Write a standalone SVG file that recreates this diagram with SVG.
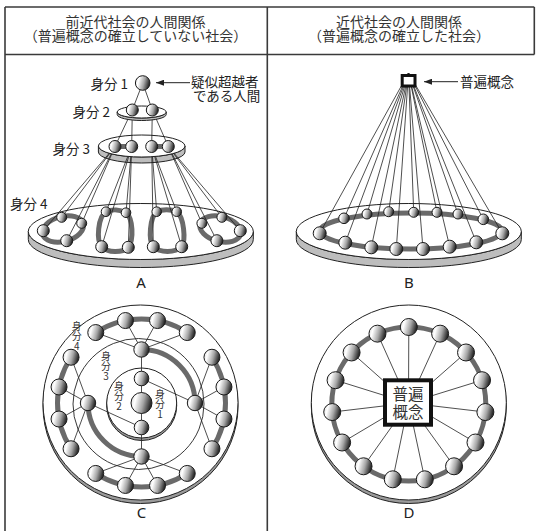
<svg xmlns="http://www.w3.org/2000/svg" width="536" height="531" viewBox="0 0 536 531">
<defs>
  <linearGradient id="bg" x1="0" y1="0" x2="1" y2="0.25">
    <stop offset="0" stop-color="#d4d4d4"/>
    <stop offset="0.28" stop-color="#ffffff"/>
    <stop offset="0.66" stop-color="#a6a6a6"/>
    <stop offset="1" stop-color="#2e2e2e"/>
  </linearGradient>
  <marker id="ah" viewBox="0 0 8 6" refX="8" refY="3" markerWidth="8" markerHeight="6" markerUnits="userSpaceOnUse" orient="auto">
    <path d="M0,0 L8,3 L0,6 Z" fill="#222"/>
  </marker>
  <clipPath id="out3">
    <path clip-rule="evenodd" d="M0,0H536V531H0Z M98.4,146 A43.3,11 0 1 0 185,146 A43.3,11 0 1 0 98.4,146 Z"/>
  </clipPath>
</defs>
<style>
  .frame{stroke:#3a3a3a;stroke-width:1.6;fill:none}
  .hd{font-family:"Noto Sans CJK JP",sans-serif;font-size:14px;fill:#333;text-anchor:middle}
  .lb{font-family:"Noto Sans CJK JP",sans-serif;font-size:13.5px;fill:#222}
  .vl{font-family:"Noto Sans CJK JP",sans-serif;font-size:10px;fill:#333;writing-mode:vertical-rl;text-orientation:upright}
  .pl{font-family:"Noto Sans","Liberation Sans",sans-serif;font-size:15px;fill:#222;text-anchor:middle}
  .sq{font-family:"Noto Sans CJK JP",sans-serif;font-size:15.5px;fill:#333;text-anchor:middle}
  .ball{fill:url(#bg);stroke:#1a1a1a;stroke-width:1}
  .ln{stroke:#222;stroke-width:0.8;fill:none}
  .ring{stroke:#6a6a6a;stroke-width:5;fill:none}
  .top{fill:#fff;stroke:#222;stroke-width:1}
  .band{fill:#bdbdbd;stroke:#222;stroke-width:1}
  .shadow{fill:#9a9a9a;stroke:#222;stroke-width:1}
  .arr{stroke:#222;stroke-width:1;fill:none}
</style>

<!-- frame -->
<g id="frame">
  <line class="frame" x1="5" y1="7" x2="534.3" y2="7"/>
  <line class="frame" x1="5" y1="54.5" x2="534.3" y2="54.5"/>
  <line class="frame" x1="5" y1="7" x2="5" y2="531"/>
  <line class="frame" x1="267.3" y1="7" x2="267.3" y2="531"/>
  <line class="frame" x1="534.3" y1="7" x2="534.3" y2="54.5"/>
  <text class="hd"><tspan x="135.5" y="27">前近代社会の人間関係</tspan><tspan x="135.5" y="40.5">（普遍概念の確立していない社会）</tspan></text>
  <text class="hd"><tspan x="399" y="27">近代社会の人間関係</tspan><tspan x="399" y="40.5">（普遍概念の確立した社会）</tspan></text>
</g>

<!-- ================= Panel A ================= -->
<g id="panelA">
  <g id="A-level4-disc">
    <path class="band" d="M28.3,231.5 A112.5,28 0 0 0 253.3,231.5 L253.3,239.5 A112.5,28 0 0 1 28.3,239.5 Z"/>
    <ellipse class="top" cx="140.8" cy="231.5" rx="112.5" ry="28"/>
    <ellipse class="ring" cx="63" cy="229" rx="21" ry="12.5" transform="rotate(-15 63 229)"/>
    <path class="ring" d="M106,211.7 C112,209 120,209.5 126,212.7 C133,218 134,240 128.3,247.3 C122,253 108,253 101.7,246.7 C96,240 98,217 106,211.7 Z"/>
    <path class="ring" d="M156.7,211.7 C162,209 171,209 176.7,211.7 C184,217 186,240 181.7,246.7 C175,253 160,253 153.3,246.7 C148,240 150,217 156.7,211.7 Z"/>
    <ellipse class="ring" cx="220.3" cy="229" rx="21" ry="12.5" transform="rotate(15 220.3 229)"/>
  </g>
  <g id="A-level3-disc">
    <path class="band" d="M98.4,146 A43.3,11 0 0 0 185,146 L185,152 A43.3,11 0 0 1 98.4,152 Z"/>
    <ellipse class="top" cx="141.7" cy="146" rx="43.3" ry="11"/>
  </g>
  <g id="connectors-A-3to4" clip-path="url(#out3)">
    <line class="ln" x1="115" y1="146.5" x2="43.3" y2="230.7"/>
    <line class="ln" x1="115" y1="146.5" x2="61.7" y2="217.3"/>
    <line class="ln" x1="115" y1="146.5" x2="81.7" y2="223.3"/>
    <line class="ln" x1="115" y1="146.5" x2="66.7" y2="240.7"/>
    <line class="ln" x1="131.7" y1="146.5" x2="106" y2="211.7"/>
    <line class="ln" x1="131.7" y1="146.5" x2="126" y2="212.7"/>
    <line class="ln" x1="131.7" y1="146.5" x2="101.7" y2="246.7"/>
    <line class="ln" x1="131.7" y1="146.5" x2="128.3" y2="247.3"/>
    <line class="ln" x1="151.7" y1="146.5" x2="156.7" y2="211.7"/>
    <line class="ln" x1="151.7" y1="146.5" x2="176.7" y2="211.7"/>
    <line class="ln" x1="151.7" y1="146.5" x2="153.3" y2="246.7"/>
    <line class="ln" x1="151.7" y1="146.5" x2="181.7" y2="246.7"/>
    <line class="ln" x1="168.3" y1="146.5" x2="240.3" y2="230.7"/>
    <line class="ln" x1="168.3" y1="146.5" x2="221.9" y2="217.3"/>
    <line class="ln" x1="168.3" y1="146.5" x2="201.9" y2="223.3"/>
    <line class="ln" x1="168.3" y1="146.5" x2="216.9" y2="240.7"/>
  </g>
  <g id="A-level4-balls">
    <circle class="ball" cx="61.7" cy="217.3" r="5"/>
    <circle class="ball" cx="81.7" cy="223.3" r="5"/>
    <circle class="ball" cx="43.3" cy="230.7" r="6"/>
    <circle class="ball" cx="66.7" cy="240.7" r="6"/>
    <circle class="ball" cx="106" cy="211.7" r="4.8"/>
    <circle class="ball" cx="126" cy="212.7" r="4.8"/>
    <circle class="ball" cx="101.7" cy="246.7" r="6"/>
    <circle class="ball" cx="128.3" cy="247.3" r="6"/>
    <circle class="ball" cx="156.7" cy="211.7" r="4.8"/>
    <circle class="ball" cx="176.7" cy="211.7" r="4.8"/>
    <circle class="ball" cx="153.3" cy="246.7" r="6"/>
    <circle class="ball" cx="181.7" cy="246.7" r="6"/>
    <circle class="ball" cx="221.9" cy="217.3" r="5"/>
    <circle class="ball" cx="201.9" cy="223.3" r="5"/>
    <circle class="ball" cx="240.3" cy="230.7" r="6"/>
    <circle class="ball" cx="216.9" cy="240.7" r="6"/>
  </g>
  <g id="connectors-A-2to3">
    <line class="ln" x1="132.3" y1="110" x2="115" y2="146.5"/>
    <line class="ln" x1="132.3" y1="110" x2="131.7" y2="146.5"/>
    <line class="ln" x1="152.3" y1="110" x2="151.7" y2="146.5"/>
    <line class="ln" x1="152.3" y1="110" x2="168.3" y2="146.5"/>
  </g>
  <g id="A-level2-disc">
    <path class="band" d="M117.2,112 A24.5,6 0 0 0 166.2,112 L166.2,114.5 A24.5,6 0 0 1 117.2,114.5 Z"/>
    <ellipse class="top" cx="141.7" cy="112" rx="24.5" ry="6"/>
  </g>
  <g id="A-level3-balls">
    <line stroke="#6a6a6a" stroke-width="5" x1="115" y1="146.5" x2="131.7" y2="146.5"/>
    <line stroke="#6a6a6a" stroke-width="5" x1="151.7" y1="146.5" x2="168.3" y2="146.5"/>
    <circle class="ball" cx="115" cy="146.5" r="6"/>
    <circle class="ball" cx="131.7" cy="146.5" r="6"/>
    <circle class="ball" cx="151.7" cy="146.5" r="6"/>
    <circle class="ball" cx="168.3" cy="146.5" r="6"/>
  </g>
  <g id="connectors-A-1to2">
    <line class="ln" x1="142.7" y1="83" x2="132.3" y2="110"/>
    <line class="ln" x1="142.7" y1="83" x2="152.3" y2="110"/>
  </g>
  <g id="A-level2-balls">
    <circle class="ball" cx="132.3" cy="110" r="6"/>
    <circle class="ball" cx="152.3" cy="110" r="6"/>
  </g>
  <g id="A-level1-ball">
    <circle class="ball" cx="142.7" cy="83" r="7.3" stroke-width="1.6"/>
  </g>
  <g id="A-labels">
    <text class="lb" x="128" y="88.5" text-anchor="end">身分 1</text>
    <text class="lb" x="110" y="117" text-anchor="end">身分 2</text>
    <text class="lb" x="90" y="154" text-anchor="end">身分 3</text>
    <text class="lb" x="10" y="209">身分 4</text>
    <line class="arr" x1="190" y1="82.7" x2="156" y2="82.7" marker-end="url(#ah)"/>
    <text class="lb"><tspan x="191" y="87">疑似超越者</tspan><tspan x="193" y="100.5">である人間</tspan></text>
    <text class="pl" x="141" y="288">A</text>
  </g>
</g>

<!-- ================= Panel B ================= -->
<g id="panelB">
  <g id="B-disc">
    <path class="band" d="M296.3,231.5 A112.5,28 0 0 0 521.3,231.5 L521.3,239.5 A112.5,28 0 0 1 296.3,239.5 Z"/>
    <ellipse class="top" cx="408.8" cy="231.5" rx="112.5" ry="28"/>
    <ellipse class="ring" cx="411" cy="231" rx="91" ry="18"/>
  </g>
  <g id="connectors-B">
    <line class="ln" x1="408.5" y1="73" x2="319.7" y2="233.3"/>
    <line class="ln" x1="408.5" y1="73" x2="344" y2="218.3"/>
    <line class="ln" x1="408.5" y1="73" x2="367" y2="214"/>
    <line class="ln" x1="408.5" y1="73" x2="388.7" y2="211.7"/>
    <line class="ln" x1="408.5" y1="73" x2="413.7" y2="212.3"/>
    <line class="ln" x1="408.5" y1="73" x2="437" y2="212.3"/>
    <line class="ln" x1="408.5" y1="73" x2="458" y2="214"/>
    <line class="ln" x1="408.5" y1="73" x2="483.3" y2="219.3"/>
    <line class="ln" x1="408.5" y1="73" x2="502.3" y2="233.3"/>
    <line class="ln" x1="408.5" y1="73" x2="345.3" y2="242.7"/>
    <line class="ln" x1="408.5" y1="73" x2="371.3" y2="247.3"/>
    <line class="ln" x1="408.5" y1="73" x2="396.3" y2="249"/>
    <line class="ln" x1="408.5" y1="73" x2="423" y2="249"/>
    <line class="ln" x1="408.5" y1="73" x2="449.7" y2="246.7"/>
    <line class="ln" x1="408.5" y1="73" x2="476.3" y2="242.3"/>
  </g>
  <g id="B-balls">
    <circle class="ball" cx="344" cy="218.3" r="5.3"/>
    <circle class="ball" cx="367" cy="214" r="5"/>
    <circle class="ball" cx="388.7" cy="211.7" r="5"/>
    <circle class="ball" cx="413.7" cy="212.3" r="5"/>
    <circle class="ball" cx="437" cy="212.3" r="5"/>
    <circle class="ball" cx="458" cy="214" r="5"/>
    <circle class="ball" cx="483.3" cy="219.3" r="5.3"/>
    <circle class="ball" cx="319.7" cy="233.3" r="6.5"/>
    <circle class="ball" cx="502.3" cy="233.3" r="6.5"/>
    <circle class="ball" cx="345.3" cy="242.7" r="6.5"/>
    <circle class="ball" cx="371.3" cy="247.3" r="6.5"/>
    <circle class="ball" cx="396.3" cy="249" r="6.5"/>
    <circle class="ball" cx="423" cy="249" r="6.5"/>
    <circle class="ball" cx="449.7" cy="246.7" r="6.5"/>
    <circle class="ball" cx="476.3" cy="242.3" r="6.5"/>
  </g>
  <g id="B-universal">
    <rect x="402.2" y="75.5" width="12.8" height="10.5" fill="#fff" stroke="#111" stroke-width="3"/>
  </g>
  <g id="B-labels">
    <line class="arr" x1="458" y1="81.7" x2="424" y2="81.7" marker-end="url(#ah)"/>
    <text class="lb" x="460" y="87">普遍概念</text>
    <text class="pl" x="409" y="288">B</text>
  </g>
</g>

<!-- ================= Panel C ================= -->
<g id="panelC">
  <g id="C-discs">
    <circle class="shadow" cx="140.5" cy="406" r="97.5"/>
    <circle class="top" cx="140.5" cy="402.5" r="97.5"/>
    <circle cx="138.5" cy="404" r="65.5" fill="none" stroke="#222" stroke-width="0.9"/>
  </g>
  <g id="C-rings">
    <path class="ring" d="M95.75,332.55 A84,84 0 0 1 187.25,332.55"/>
    <path class="ring" d="M211.95,357.25 A84,84 0 0 1 211.95,448.75"/>
    <path class="ring" d="M187.25,473.45 A84,84 0 0 1 95.75,473.45"/>
    <path class="ring" d="M71.05,448.75 A84,84 0 0 1 71.05,357.25"/>
    <path class="ring" d="M141.5,349.5 A53.5,53.5 0 0 1 195,403"/>
    <path class="ring" d="M88,403 A53.5,53.5 0 0 0 141.5,456.5"/>
  </g>
  <g id="C-inner-disc">
    <circle class="shadow" cx="141.7" cy="405.5" r="35"/>
    <circle class="top" cx="141.7" cy="403" r="35"/>
  </g>
  <g id="connectors-C">
    <line class="ln" x1="141.5" y1="349.5" x2="95.75" y2="332.55"/>
    <line class="ln" x1="141.5" y1="349.5" x2="125.47" y2="320.54"/>
    <line class="ln" x1="141.5" y1="349.5" x2="157.53" y2="320.54"/>
    <line class="ln" x1="141.5" y1="349.5" x2="187.25" y2="332.55"/>
    <line class="ln" x1="195" y1="403" x2="211.95" y2="357.25"/>
    <line class="ln" x1="195" y1="403" x2="223.96" y2="386.97"/>
    <line class="ln" x1="195" y1="403" x2="223.96" y2="419.03"/>
    <line class="ln" x1="195" y1="403" x2="211.95" y2="448.75"/>
    <line class="ln" x1="141.5" y1="456.5" x2="187.25" y2="473.45"/>
    <line class="ln" x1="141.5" y1="456.5" x2="157.53" y2="485.46"/>
    <line class="ln" x1="141.5" y1="456.5" x2="125.47" y2="485.46"/>
    <line class="ln" x1="141.5" y1="456.5" x2="95.75" y2="473.45"/>
    <line class="ln" x1="88" y1="403" x2="71.05" y2="448.75"/>
    <line class="ln" x1="88" y1="403" x2="59.04" y2="419.03"/>
    <line class="ln" x1="88" y1="403" x2="59.04" y2="386.97"/>
    <line class="ln" x1="88" y1="403" x2="71.05" y2="357.25"/>
    <line class="ln" x1="141.5" y1="378.5" x2="141.5" y2="349.5"/>
    <line class="ln" x1="141.5" y1="378.5" x2="195" y2="403"/>
    <line class="ln" x1="141.5" y1="427.5" x2="141.5" y2="456.5"/>
    <line class="ln" x1="141.5" y1="427.5" x2="88" y2="403"/>
    <line class="ln" x1="141.5" y1="403" x2="141.5" y2="378.5"/>
    <line class="ln" x1="141.5" y1="403" x2="141.5" y2="427.5"/>
  </g>
  <g id="C-balls">
    <circle class="ball" cx="95.75" cy="332.55" r="8"/>
    <circle class="ball" cx="125.47" cy="320.54" r="8"/>
    <circle class="ball" cx="157.53" cy="320.54" r="8"/>
    <circle class="ball" cx="187.25" cy="332.55" r="8"/>
    <circle class="ball" cx="211.95" cy="357.25" r="8"/>
    <circle class="ball" cx="223.96" cy="386.97" r="8"/>
    <circle class="ball" cx="223.96" cy="419.03" r="8"/>
    <circle class="ball" cx="211.95" cy="448.75" r="8"/>
    <circle class="ball" cx="187.25" cy="473.45" r="8"/>
    <circle class="ball" cx="157.53" cy="485.46" r="8"/>
    <circle class="ball" cx="125.47" cy="485.46" r="8"/>
    <circle class="ball" cx="95.75" cy="473.45" r="8"/>
    <circle class="ball" cx="71.05" cy="448.75" r="8"/>
    <circle class="ball" cx="59.04" cy="419.03" r="8"/>
    <circle class="ball" cx="59.04" cy="386.97" r="8"/>
    <circle class="ball" cx="71.05" cy="357.25" r="8"/>
    <circle class="ball" cx="141.5" cy="349.5" r="7.7"/>
    <circle class="ball" cx="195" cy="403" r="7.7"/>
    <circle class="ball" cx="141.5" cy="456.5" r="7.7"/>
    <circle class="ball" cx="88" cy="403" r="7.7"/>
    <circle class="ball" cx="141.5" cy="378.5" r="7.3"/>
    <circle class="ball" cx="141.5" cy="427.5" r="7.3"/>
    <circle class="ball" cx="141.5" cy="403" r="10.5" stroke-width="2"/>
  </g>
  <g id="C-labels">
    <text class="vl" x="76.7" y="321">身分4</text>
    <text class="vl" x="106" y="351">身分3</text>
    <text class="vl" x="119" y="381">身分2</text>
    <text class="vl" x="160" y="389.5">身分1</text>
    <text class="pl" x="141.5" y="517.5">C</text>
  </g>
</g>

<!-- ================= Panel D ================= -->
<g id="panelD">
  <g id="D-disc">
    <circle class="shadow" cx="408.8" cy="406" r="97.5"/>
    <circle class="top" cx="408.8" cy="402.5" r="97.5"/>
    <circle class="ring" cx="408.8" cy="404" r="77"/>
  </g>
  <g id="connectors-D">
    <line class="ln" x1="408.5" y1="403" x2="408.8" y2="327"/>
    <line class="ln" x1="408.5" y1="403" x2="440.12" y2="333.66"/>
    <line class="ln" x1="408.5" y1="403" x2="466.02" y2="352.48"/>
    <line class="ln" x1="408.5" y1="403" x2="482.03" y2="380.21"/>
    <line class="ln" x1="408.5" y1="403" x2="485.38" y2="412.05"/>
    <line class="ln" x1="408.5" y1="403" x2="475.48" y2="442.5"/>
    <line class="ln" x1="408.5" y1="403" x2="454.06" y2="466.29"/>
    <line class="ln" x1="408.5" y1="403" x2="424.81" y2="479.31"/>
    <line class="ln" x1="408.5" y1="403" x2="392.79" y2="479.31"/>
    <line class="ln" x1="408.5" y1="403" x2="363.54" y2="466.29"/>
    <line class="ln" x1="408.5" y1="403" x2="342.12" y2="442.5"/>
    <line class="ln" x1="408.5" y1="403" x2="332.22" y2="412.05"/>
    <line class="ln" x1="408.5" y1="403" x2="335.57" y2="380.21"/>
    <line class="ln" x1="408.5" y1="403" x2="351.58" y2="352.48"/>
    <line class="ln" x1="408.5" y1="403" x2="377.48" y2="333.66"/>
  </g>
  <g id="D-balls">
    <circle class="ball" cx="408.8" cy="327" r="8.5"/>
    <circle class="ball" cx="440.12" cy="333.66" r="8.5"/>
    <circle class="ball" cx="466.02" cy="352.48" r="8.5"/>
    <circle class="ball" cx="482.03" cy="380.21" r="8.5"/>
    <circle class="ball" cx="485.38" cy="412.05" r="8.5"/>
    <circle class="ball" cx="475.48" cy="442.5" r="8.5"/>
    <circle class="ball" cx="454.06" cy="466.29" r="8.5"/>
    <circle class="ball" cx="424.81" cy="479.31" r="8.5"/>
    <circle class="ball" cx="392.79" cy="479.31" r="8.5"/>
    <circle class="ball" cx="363.54" cy="466.29" r="8.5"/>
    <circle class="ball" cx="342.12" cy="442.5" r="8.5"/>
    <circle class="ball" cx="332.22" cy="412.05" r="8.5"/>
    <circle class="ball" cx="335.57" cy="380.21" r="8.5"/>
    <circle class="ball" cx="351.58" cy="352.48" r="8.5"/>
    <circle class="ball" cx="377.48" cy="333.66" r="8.5"/>
  </g>
  <g id="D-universal">
    <rect x="385" y="380.3" width="46" height="44.4" fill="#fff" stroke="#111" stroke-width="4"/>
    <text class="sq"><tspan x="408" y="400">普遍</tspan><tspan x="408" y="417.5">概念</tspan></text>
  </g>
  <text class="pl" x="409" y="517.5">D</text>
</g>
</svg>
